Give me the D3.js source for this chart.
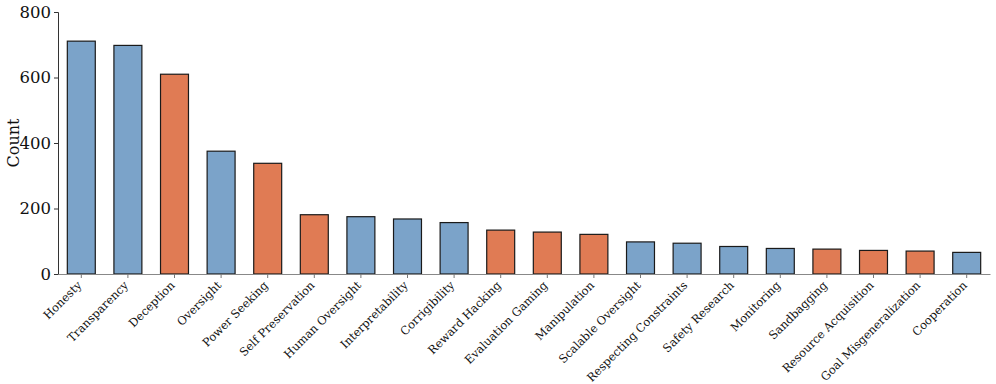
<!DOCTYPE html>
<html>
<head>
<meta charset="utf-8">
<script src="https://cdn.jsdelivr.net/npm/d3@7"></script>
<style>
  body { margin: 0; background: #fff; }
  text { font-family: "DejaVu Serif", serif; }
</style>
</head>
<body>
<div id="chart"></div>
<script>
// categories in plotted order, with their counts and a group flag (risk vs. safety)
var categories = ["Honesty", "Transparency", "Deception", "Oversight", "Power Seeking",
  "Self Preservation", "Human Oversight", "Interpretability", "Corrigibility", "Reward Hacking",
  "Evaluation Gaming", "Manipulation", "Scalable Oversight", "Respecting Constraints",
  "Safety Research", "Monitoring", "Sandbagging", "Resource Acquisition",
  "Goal Misgeneralization", "Cooperation"];
var counts = [711, 698, 610, 375, 338, 181, 175, 168, 157, 134,
  128, 121, 98, 94, 84, 78, 76, 72, 70, 66];
var groups = ["safe", "safe", "risk", "safe", "risk", "risk", "safe", "safe", "safe", "risk",
  "risk", "risk", "safe", "safe", "safe", "safe", "risk", "risk", "risk", "safe"];
var yTicks = [0, 200, 400, 600, 800];

(function() {
  var margin = { top: 12, left: 58, right: 6, bottom: 110 },
    width = 996 - margin.left - margin.right,
    height = 384 - margin.top - margin.bottom;

  var svg = d3.select("#chart")
    .append("svg")
    .attr("width", width + margin.left + margin.right)
    .attr("height", height + margin.top + margin.bottom)
    .append("g")
    .attr("transform", "translate(" + margin.left + "," + margin.top + ")");

  var datapoints = categories.map(function(c, i) {
    return { name: c, count: counts[i], group: groups[i] };
  });

  var xPositionScale = d3.scaleBand()
    .domain(categories)
    .range([0, width])
    .paddingInner(0.4)
    .paddingOuter(0.2);

  var yPositionScale = d3.scaleLinear()
    .domain([0, 800])
    .range([height, 0]);

  var colorScale = d3.scaleOrdinal()
    .domain(["safe", "risk"])
    .range(["#7ba3c9", "#e07b54"]);

  svg.selectAll(".bar")
    .data(datapoints)
    .enter().append("rect")
    .attr("class", "bar")
    .attr("x", function(d) { return xPositionScale(d.name); })
    .attr("y", function(d) { return yPositionScale(d.count); })
    .attr("width", xPositionScale.bandwidth())
    .attr("height", function(d) { return height - yPositionScale(d.count); })
    .attr("fill", function(d) { return colorScale(d.group); })
    .attr("stroke", "#1a1a1a")
    .attr("stroke-width", 1.2);

  var yAxis = d3.axisLeft(yPositionScale)
    .tickValues(yTicks)
    .tickSize(4)
    .tickPadding(3);

  var yG = svg.append("g")
    .attr("class", "y axis")
    .call(yAxis);
  yG.select(".domain").attr("stroke", "#333");
  yG.selectAll(".tick line").attr("stroke", "#333");
  yG.selectAll("text")
    .attr("font-size", "16.5px")
    .attr("font-family", "DejaVu Serif")
    .attr("fill", "#111");

  var xAxis = d3.axisBottom(xPositionScale)
    .tickSize(4)
    .tickSizeOuter(0);

  var xG = svg.append("g")
    .attr("class", "x axis")
    .attr("transform", "translate(0," + height + ")")
    .call(xAxis);
  xG.select(".domain").attr("stroke", "#888");
  xG.selectAll(".tick line").attr("stroke", "#777");
  xG.selectAll("text")
    .attr("y", 0)
    .attr("x", 0)
    .attr("dy", 0)
    .attr("transform", "translate(1,12) rotate(-45)")
    .attr("font-size", "11.5px")
    .attr("font-family", "DejaVu Serif")
    .attr("fill", "#111")
    .style("text-anchor", "end");

  svg.append("text")
    .attr("transform", "rotate(-90)")
    .attr("x", -height / 2)
    .attr("y", -39)
    .style("text-anchor", "middle")
    .attr("font-size", "16px")
    .attr("fill", "#111")
    .text("Count");
})();
</script>
</body>
</html>
